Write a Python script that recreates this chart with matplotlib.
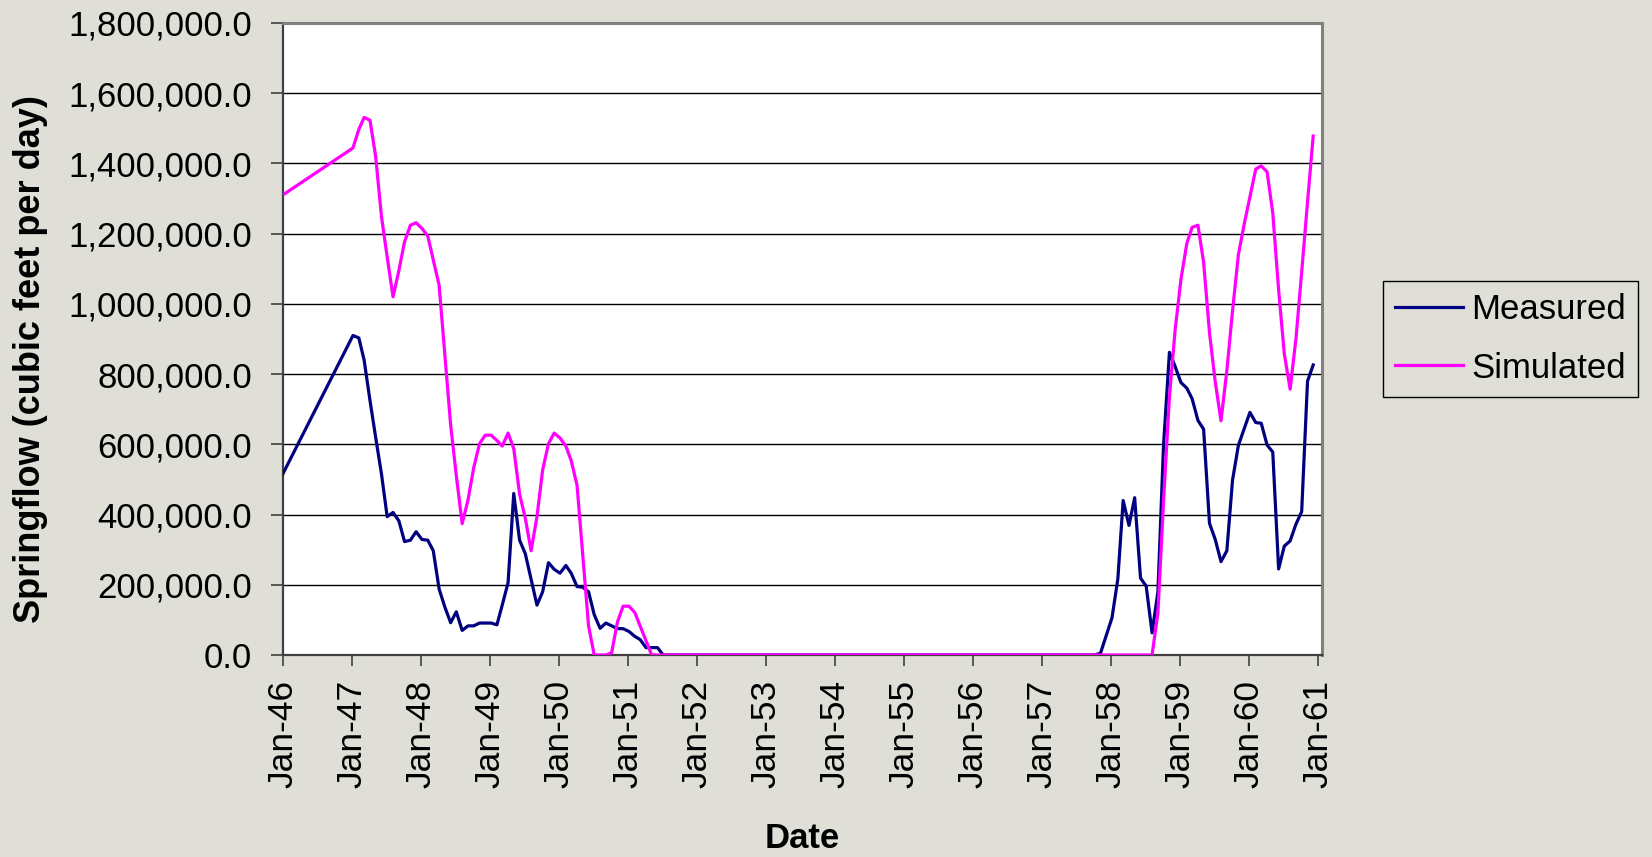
import datetime as dt
import pandas as pd
import matplotlib
matplotlib.use("Agg")
import matplotlib.pyplot as plt
import matplotlib.dates as mdates
from matplotlib.ticker import FuncFormatter, MultipleLocator

plt.rcParams['font.family'] = ['Liberation Sans', 'DejaVu Sans']

BG = '#dfdfd7'

# ---- data ----
# one point at Jan-46, then monthly values Jan-47 .. Dec-60
first_date = pd.Timestamp('1946-01-01')
monthly_dates = pd.date_range('1947-01-01', periods=168, freq='MS') + pd.Timedelta(days=7)
dates = [first_date] + list(monthly_dates)

measured_1946 = 515000
measured = [
    910000, 903000, 840000, 725000, 620000, 515000, 394000, 406000, 382000, 323000,
    327000, 351000, 329000, 327000, 297000, 188000, 137000, 92000, 123000, 70000,
    83000, 83000, 91000, 91000, 91000, 86000, 142000, 206000, 460000, 327000,
    289000, 215000, 142000, 180000, 263000, 244000, 233000, 255000, 233000, 195000,
    193000, 180000, 115000, 76000, 91000, 83000, 75000, 75000, 67000, 53000,
    44000, 21000, 21000, 21000,
] + [0] * 76 + [
    5000, 55000, 106000, 217000, 440000, 369000, 448000, 219000, 196000, 63000,
    180000, 600000, 862000, 822000, 776000, 760000, 730000, 668000, 643000, 375000,
    330000, 266000, 297000, 498000, 597000, 643000, 691000, 662000, 660000, 598000,
    578000, 245000, 310000, 325000, 373000, 408000, 780000, 826000,
]

simulated_1946 = 1310000
simulated = [
    1444000, 1497000, 1531000, 1523000, 1420000, 1248000, 1134000, 1020000, 1095000, 1177000,
    1224000, 1231000, 1215000, 1193000, 1125000, 1053000, 859000, 655000, 511000, 374000,
    442000, 533000, 602000, 626000, 626000, 611000, 595000, 632000, 588000, 458000,
    390000, 297000, 394000, 527000, 602000, 632000, 618000, 595000, 554000, 484000,
    287000, 83000, 0, 0, 0, 6000, 94000, 139000, 139000, 121000,
    83000, 41000,
] + [0] * 88 + [
    120000, 440000, 735000, 925000, 1070000, 1172000, 1218000, 1224000, 1118000, 918000,
    780000, 667000, 810000, 980000, 1140000, 1225000, 1305000, 1384000, 1393000, 1376000,
    1259000, 1040000, 858000, 757000, 902000, 1090000, 1290000, 1478000,
]

measured_all = [measured_1946] + measured
simulated_all = [simulated_1946] + simulated

# ---- figure ----
fig = plt.figure(figsize=(16.52, 8.57), dpi=100, facecolor=BG)
ax = fig.add_axes([0.17113, 0.23571, 0.62881, 0.73746])
ax.set_facecolor('white')

ax.plot(dates, measured_all, color='#000080', lw=2.3, label='Measured', zorder=3)
ax.plot(dates, simulated_all, color='#ff00ff', lw=2.3, label='Simulated', zorder=3)

ax.set_ylim(0, 1800000)
ax.set_xlim(dt.datetime(1946, 1, 1), dt.datetime(1961, 1, 21))

ax.yaxis.set_major_locator(MultipleLocator(200000))
ax.yaxis.set_major_formatter(FuncFormatter(lambda v, p: f"{v:,.1f}"))
ax.xaxis.set_major_locator(mdates.YearLocator(1, month=1, day=1))
ax.xaxis.set_major_formatter(mdates.DateFormatter('%b-%y'))

ax.yaxis.grid(True, color='black', lw=1)
ax.set_axisbelow(True)

for side in ('top', 'right'):
    ax.spines[side].set_color('#808080')
    ax.spines[side].set_linewidth(2.2)
for side in ('left', 'bottom'):
    ax.spines[side].set_color('#404040')
    ax.spines[side].set_linewidth(1.6)

ax.tick_params(axis='y', length=9, width=1.2, color='#404040', pad=13, labelsize=25)
ax.tick_params(axis='x', length=8, width=1.2, color='#404040', pad=10, labelsize=25.5,
               labelrotation=90)

fig.text(0.0182, 1 - 359 / 857, 'Springflow (cubic feet per day)', rotation=90,
         ha='center', va='center', fontsize=26, fontweight='bold')
fig.text(0.4855, 1 - 838 / 857, 'Date', ha='center', va='center',
         fontsize=25, fontweight='bold')

leg = ax.legend(loc='upper left', bbox_to_anchor=(0.8372, 0.6721),
                bbox_transform=fig.transFigure, fontsize=25, frameon=True,
                fancybox=False, edgecolor='black', facecolor=BG, framealpha=1,
                handlelength=1.95, handletextpad=0.25, borderpad=0.35,
                labelspacing=0.73, borderaxespad=0)
leg.get_frame().set_linewidth(1.0)

fig.savefig('out.png', dpi=100, facecolor=BG)
